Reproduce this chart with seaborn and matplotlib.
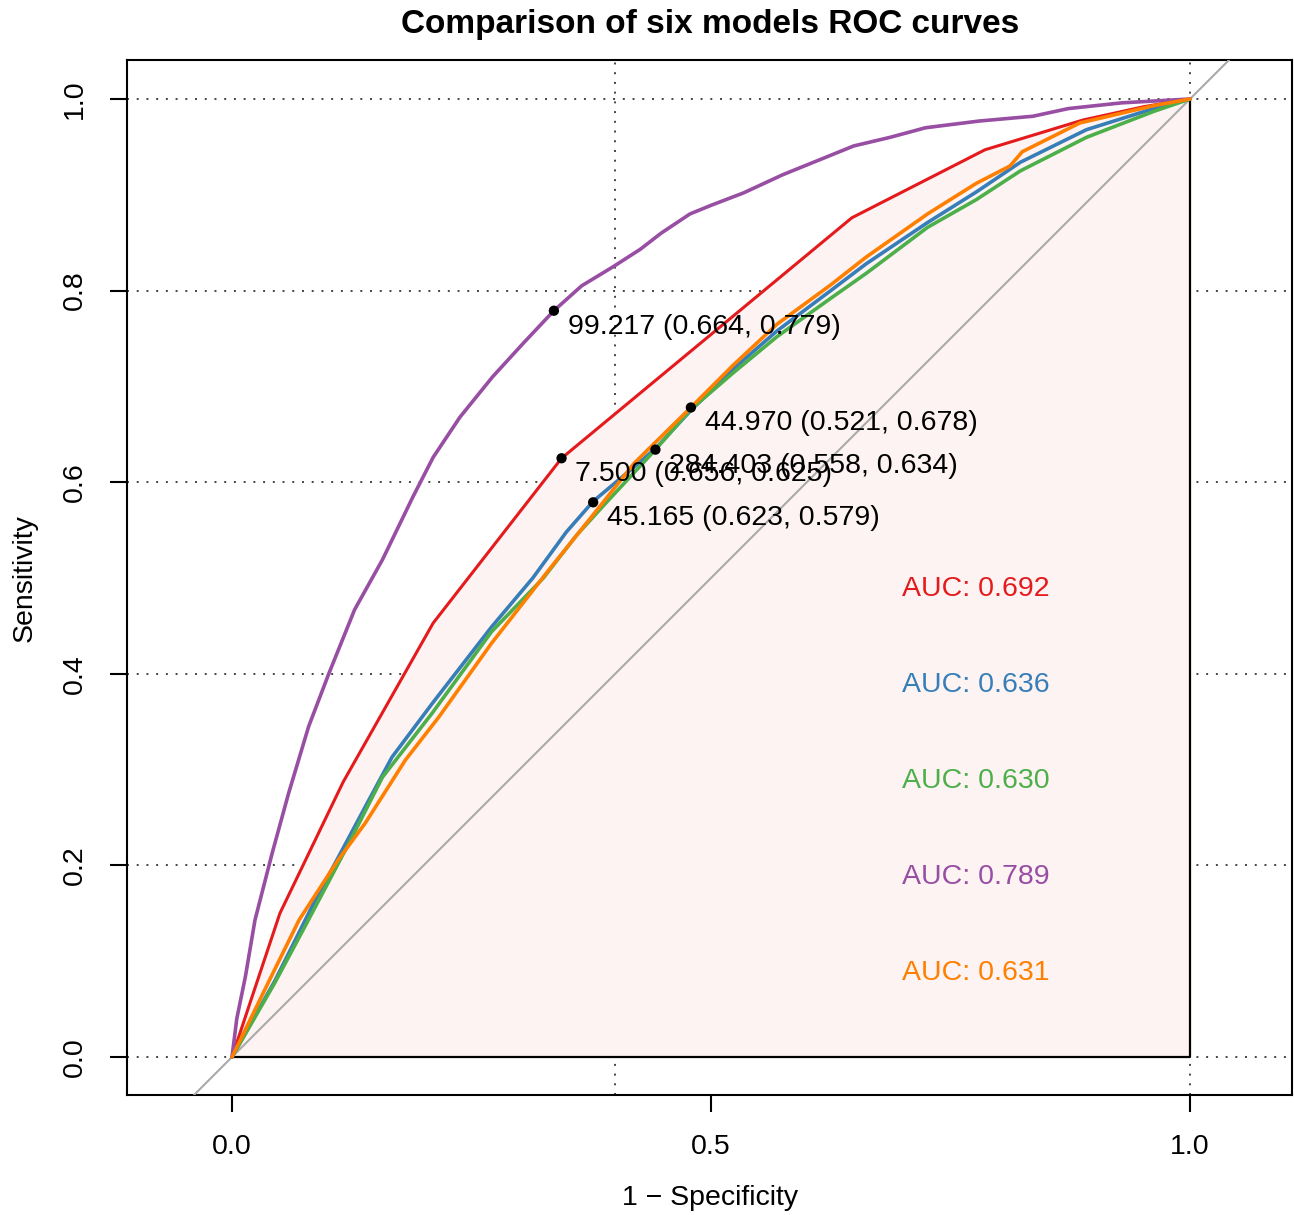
import matplotlib
matplotlib.use('Agg')
import matplotlib.pyplot as plt
import seaborn as sns
import pandas as pd

# ROC curve coordinates (x = 1 - specificity, y = sensitivity)
red_fpr = [0, 0.05, 0.116, 0.21, 0.344, 0.647, 0.786, 0.888, 0.952, 1.0]
red_tpr = [0, 0.15, 0.287, 0.453, 0.625, 0.876, 0.947, 0.978, 0.992, 1.0]

blue_fpr = [0, 0.045, 0.087, 0.115, 0.139, 0.167, 0.209, 0.271, 0.314, 0.349, 0.377, 0.415,
            0.442, 0.479, 0.523, 0.569, 0.625, 0.662, 0.726, 0.777, 0.823, 0.892, 0.962, 1.0]
blue_tpr = [0, 0.080, 0.164, 0.216, 0.261, 0.313, 0.369, 0.449, 0.500, 0.548, 0.580, 0.612,
            0.635, 0.675, 0.718, 0.758, 0.800, 0.828, 0.871, 0.903, 0.934, 0.968, 0.990, 1.0]

green_fpr = [0, 0.045, 0.076, 0.122, 0.157, 0.209, 0.271, 0.325, 0.360, 0.390, 0.442, 0.479,
             0.523, 0.569, 0.625, 0.662, 0.726, 0.777, 0.823, 0.892, 0.962, 1.0]
green_tpr = [0, 0.078, 0.136, 0.223, 0.292, 0.359, 0.444, 0.500, 0.545, 0.578, 0.634, 0.676,
             0.714, 0.752, 0.792, 0.818, 0.866, 0.895, 0.925, 0.960, 0.987, 1.0]

purple_fpr = [0, 0.005, 0.014, 0.024, 0.042, 0.059, 0.080, 0.101, 0.128, 0.157, 0.189, 0.210,
              0.238, 0.272, 0.304, 0.336, 0.365, 0.398, 0.426, 0.448, 0.478, 0.500, 0.534, 0.575,
              0.612, 0.649, 0.687, 0.724, 0.780, 0.836, 0.873, 0.929, 1.0]
purple_tpr = [0, 0.040, 0.084, 0.143, 0.213, 0.275, 0.345, 0.400, 0.467, 0.519, 0.585, 0.626,
              0.668, 0.710, 0.745, 0.779, 0.805, 0.825, 0.843, 0.860, 0.880, 0.889, 0.902, 0.921,
              0.936, 0.951, 0.960, 0.970, 0.977, 0.982, 0.990, 0.996, 1.0]

orange_fpr = [0, 0.039, 0.070, 0.111, 0.139, 0.181, 0.216, 0.271, 0.332, 0.377, 0.420, 0.479,
              0.523, 0.569, 0.625, 0.662, 0.726, 0.777, 0.812, 0.825, 0.885, 0.962, 1.0]
orange_tpr = [0, 0.080, 0.143, 0.206, 0.244, 0.310, 0.355, 0.432, 0.510, 0.566, 0.620, 0.678,
              0.722, 0.765, 0.806, 0.835, 0.880, 0.912, 0.930, 0.945, 0.975, 0.993, 1.0]

models = ['red', 'blue', 'green', 'purple', 'orange']
colors = ['#E41A1C', '#377EB8', '#4DAF4A', '#984EA3', '#FF7F00']
auc_values = [0.692, 0.636, 0.630, 0.789, 0.631]

# best thresholds: value (specificity, sensitivity)
thr_value = [99.217, 7.500, 284.403, 44.970, 45.165]
thr_spec = [0.664, 0.656, 0.558, 0.521, 0.623]
thr_sens = [0.779, 0.625, 0.634, 0.678, 0.579]

curves = {
    'red': (red_fpr, red_tpr),
    'blue': (blue_fpr, blue_tpr),
    'green': (green_fpr, green_tpr),
    'purple': (purple_fpr, purple_tpr),
    'orange': (orange_fpr, orange_tpr),
}
frames = []
for m in models:
    fx, fy = curves[m]
    frames.append(pd.DataFrame({'model': m, 'fpr': fx, 'tpr': fy}))
df = pd.concat(frames, ignore_index=True)

sns.set_style('white')
plt.rcParams['font.family'] = ['Liberation Sans', 'DejaVu Sans']
plt.rcParams['text.color'] = 'black'

fig = plt.figure(figsize=(12.94, 12.15), dpi=100)
ax = fig.add_axes([127 / 1294, 1 - 1095 / 1215, (1292 - 127) / 1294, (1095 - 60) / 1215])

# dotted grid (sits under the AUC polygon)
for g in [0, 0.2, 0.4, 0.6, 0.8, 1.0]:
    ax.axhline(g, color='#444444', lw=1.4, ls=(0, (1, 4)), zorder=0)
for g in [0.4, 1.0]:
    ax.axvline(g, color='#444444', lw=1.4, ls=(0, (1, 4)), zorder=0)

# AUC polygon under the first curve
ax.fill_between(red_fpr, red_tpr, 0, color='#FDF3F3', lw=0, zorder=1)
ax.plot([0, 1, 1], [0, 0, 1], color='black', lw=1.6, zorder=2)

# chance line
ax.axline((0, 0), (1, 1), color='#AAAAAA', lw=1.5, zorder=3)

for m, c in zip(models, colors):
    sns.lineplot(data=df[df['model'] == m], x='fpr', y='tpr', sort=False, estimator=None,
                 color=c, lw=2.2 if m == 'red' else 2.6, ax=ax, zorder=4)

thr_x = [1 - s for s in thr_spec]
sns.scatterplot(x=thr_x, y=thr_sens, color='black', s=55, edgecolor='none', zorder=6, ax=ax)
for v, sp, se, x in zip(thr_value, thr_spec, thr_sens, thr_x):
    ax.annotate(f'{v:.3f} ({sp:.3f}, {se:.3f})', (x, se), xytext=(10, -11.5),
                textcoords='offset points', ha='left', va='center', fontsize=20.5,
                color='black', zorder=7)

for i, (a, c) in enumerate(zip(auc_values, colors)):
    ax.text(0.699, 0.488 - 0.1 * i, f'AUC: {a:.3f}', color=c, fontsize=20.5,
            ha='left', va='center', zorder=7)

ax.set_xlim((127 - 232) / 958, (1292 - 232) / 958)
ax.set_ylim((1057 - 1095) / 958, (1057 - 60) / 958)
ax.set_xticks([0, 0.5, 1.0])
ax.set_xticklabels(['0.0', '0.5', '1.0'])
ax.set_yticks([0, 0.2, 0.4, 0.6, 0.8, 1.0])
ax.set_yticklabels(['0.0', '0.2', '0.4', '0.6', '0.8', '1.0'], rotation=90, va='center')
ax.tick_params(direction='out', length=12, width=1.5, pad=16, labelsize=20.5,
               colors='black', bottom=True, left=True)
for s in ax.spines.values():
    s.set_color('black')
    s.set_linewidth(1.5)
ax.set_xlabel('')
ax.set_ylabel('')

fig.text(710 / 1294, 1 - 1198 / 1215, '1 \u2212 Specificity', fontsize=20.5, ha='center', va='center')
fig.text(25 / 1294, 1 - 578 / 1215, 'Sensitivity', fontsize=20.5, rotation=90, ha='center', va='center')
fig.text(710 / 1294, 1 - 25 / 1215, 'Comparison of six models ROC curves', fontsize=24,
         fontweight='bold', ha='center', va='center')

fig.savefig('out.png', dpi=100)
